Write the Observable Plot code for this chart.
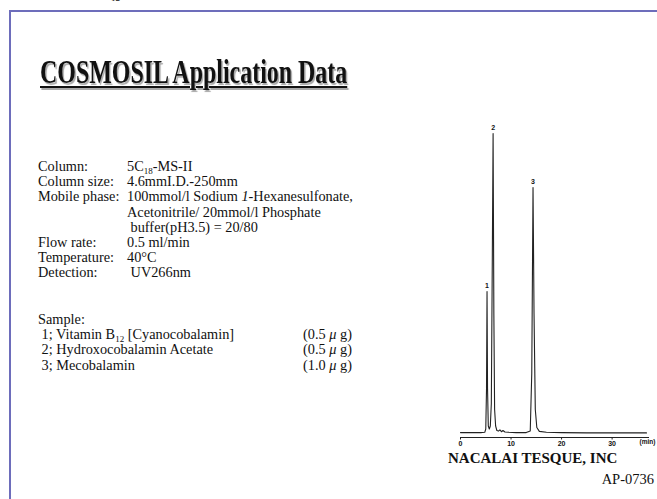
<!DOCTYPE html>
<html><head><meta charset="utf-8">
<script src="https://cdn.jsdelivr.net/npm/d3@7"></script>
<script src="https://cdn.jsdelivr.net/npm/@observablehq/plot@0.6"></script>
<style>
html,body{margin:0;padding:0;background:#fff;}
#page{position:relative;width:657px;height:499px;overflow:hidden;background:#fff;font-family:"Liberation Serif","Times New Roman",serif;color:#111;}
#frame{position:absolute;left:9px;top:10px;right:-10px;bottom:-10px;border-left:2px solid #6d6dbb;border-top:2px solid #6d6dbb;}
#title{position:absolute;left:40px;top:53px;font-size:34px;font-weight:bold;white-space:nowrap;transform:scaleX(0.704);transform-origin:0 0;text-decoration:underline;text-decoration-thickness:2px;text-underline-offset:3px;text-shadow:2px 2px 1px #aaa;color:#111;}
.block{position:absolute;left:38px;font-size:14.3px;line-height:15.2px;white-space:nowrap;}
.row .lab{display:inline-block;width:89px;}
.amt{position:absolute;left:265px;}
sub{font-size:9px;vertical-align:-3px;line-height:0;}
#chart{position:absolute;left:440px;top:110px;}
#maker{position:absolute;left:448px;top:450px;font-size:15px;font-weight:bold;white-space:nowrap;}
#code{position:absolute;right:3px;top:471px;font-size:14.5px;white-space:nowrap;}
#frag{position:absolute;left:111px;top:-7px;font-size:9px;}
</style></head>
<body><div id="page">
<div id="frame"></div>
<div id="frag">12</div>
<div id="title">COSMOSIL Application Data</div>
<div class="block" id="cond" style="top:159px"></div>
<div class="block" id="sample" style="top:312px"></div>
<div id="chart"></div>
<div id="maker">NACALAI TESQUE, INC</div>
<div id="code">AP-0736</div>
</div>
<script>
// Conditions text
const condLabels = ["Column:", "Column size:", "Mobile phase:", "", "", "Flow rate:", "Temperature:", "Detection:"];
const condValues = ["5C<sub>18</sub>-MS-II", "4.6mmI.D.-250mm", "100mmol/l Sodium <i>1</i>-Hexanesulfonate,", "Acetonitrile/ 20mmol/l Phosphate", "&nbsp;buffer(pH3.5) = 20/80", "0.5 ml/min", "40°C", "&nbsp;UV266nm"];
const sampleItems = ["&nbsp;1; Vitamin B<sub>12</sub> [Cyanocobalamin]", "&nbsp;2; Hydroxocobalamin Acetate", "&nbsp;3; Mecobalamin"];
const sampleAmounts = ["(0.5 <i>μ</i> g)", "(0.5 <i>μ</i> g)", "(1.0 <i>μ</i> g)"];

// Chromatogram (time in min, relative absorbance)
const times   = [0, 2, 4, 4.8, 5.0, 5.15, 5.25, 5.35, 5.5, 5.7, 5.9, 6.1, 6.3, 6.45, 6.6, 6.75, 6.95, 7.2, 7.5, 7.8, 8.1, 8.4, 8.8, 9.5, 11, 13, 13.8, 14.1, 14.35, 14.55, 14.8, 15.1, 15.6, 17, 20, 25, 30, 35, 36.8];
const signals = [0.3, 0.3, 0.3, 0.4, 1.5, 15, 47.3, 15, 2.5, 1.5, 2.5, 10, 60, 100, 40, 8, 2.5, 1.0, 0.8, 1.2, 0.6, 1.0, 0.5, 0.4, 0.3, 0.3, 0.8, 20, 82, 40, 8, 2, 0.7, 0.4, 0.3, 0.2, 0.2, 0.2, 0.2];
const peakLabels = ["1", "2", "3"];
const peakTimes = [5.25, 6.45, 14.35];
const peakHeights = [47.3, 100, 82];
const tickValues = [0, 10, 20, 30];
const xMax = 37.2;

const cond = document.getElementById("cond");
cond.innerHTML = condLabels.map((l, i) => `<div class="row"><span class="lab">${l}</span>${condValues[i]}</div>`).join("");
const samp = document.getElementById("sample");
samp.innerHTML = `<div class="row">Sample:</div>` + sampleItems.map((s, i) => `<div class="row">${s}<span class="amt">${sampleAmounts[i]}</span></div>`).join("");

const trace = times.map((t, i) => ({t, v: signals[i]}));
const peaks = peakLabels.map((p, i) => ({label: p, t: peakTimes[i], v: peakHeights[i]}));

const chart = Plot.plot({
  width: 217, height: 340,
  marginLeft: 20, marginRight: 9, marginTop: 23, marginBottom: 13,
  x: {domain: [0, xMax]},
  y: {domain: [0, 100], insetBottom: 4, axis: null},
  style: {fontFamily: "'Liberation Sans', Arial, sans-serif", background: "transparent", overflow: "visible"},
  marks: [
    Plot.frame({anchor: "bottom", stroke: "#222", strokeWidth: 1}),
    Plot.axisX({ticks: tickValues, tickSize: 2.5, tickPadding: 1, fontSize: 7, fontWeight: "bold", label: null, stroke: "#222", color: "#111"}),
    Plot.text(["(min)"], {frameAnchor: "bottom-right", dx: 7, dy: 6, textAnchor: "end", fontSize: 6.5, fontWeight: "bold", fill: "#111"}),
    Plot.line(trace, {x: "t", y: "v", stroke: "#222", strokeWidth: 1.1}),
    Plot.text(peaks, {x: "t", y: "v", text: "label", dy: -6, fontSize: 7, fontWeight: "bold", fill: "#111"})
  ]
});
document.getElementById("chart").appendChild(chart);
</script>
</body></html>
